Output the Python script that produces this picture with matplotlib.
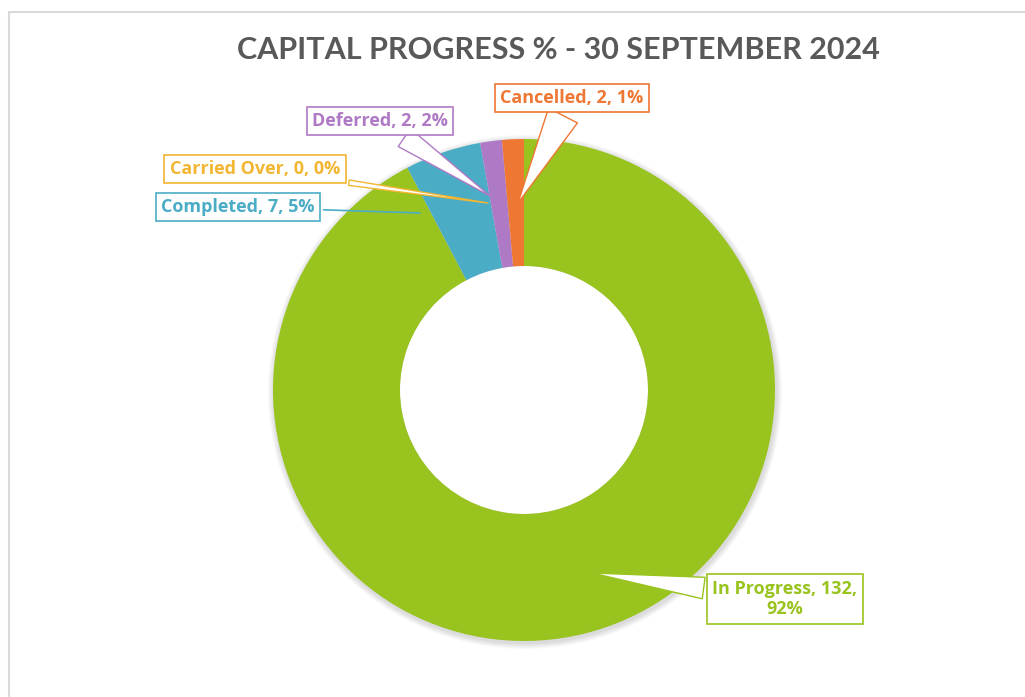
import numpy as np
import matplotlib
matplotlib.use('Agg')
import matplotlib.pyplot as plt
from matplotlib.patches import Circle

# data
categories = ['In Progress', 'Completed', 'Carried Over', 'Deferred', 'Cancelled']
counts = [132, 7, 0, 2, 2]
pct_labels = ['92%', '5%', '0%', '2%', '1%']
colors = ['#99C31E', '#4BACC6', '#F2B632', '#AF7AC5', '#EE7733']
title = 'CAPITAL PROGRESS % - 30 SEPTEMBER 2024'

plt.rcParams['font.family'] = ['Lato', 'DejaVu Sans']

W, H = 1025, 697
fig = plt.figure(figsize=(W / 100, H / 100), dpi=100)
ax = fig.add_axes([0, 0, 1, 1])

cx, cy = 524, H - 390
R, r_in = 251, 124

# soft shadow around the ring
for k in range(1, 7):
    ax.add_patch(Circle((cx + 1, cy - 2), R + k, color='#000000', alpha=0.025, lw=0, zorder=0))
ax.add_patch(Circle((cx, cy), r_in, color='white', lw=0, zorder=0.5))

wedges, _ = ax.pie(counts, colors=colors, startangle=90, counterclock=False,
                   center=(cx, cy), radius=R, frame=True,
                   wedgeprops=dict(width=R - r_in, edgecolor='none', zorder=1))
ax.set_xlim(0, W)
ax.set_ylim(0, H)
ax.set_aspect('equal')
ax.axis('off')

# chart area border (top and left only visible)
ax.plot([9, 9, W], [0, H - 12, H - 12], color='#D9D9D9', lw=1.5)

ax.text(558, H - 50, title, ha='center', va='center', fontsize=22,
        fontweight='bold', color='#595959')

# label text, text position, tip of pointer, wedge width
labels = {
    'Cancelled': ('Cancelled, 2, 1%', (572, H - 98), (518, H - 203), 1.8),
    'Deferred': ('Deferred, 2, 2%', (380, H - 121), (490, H - 196), 1.2),
    'Carried Over': ('Carried Over, 0, 0%', (255, H - 169), (488, H - 203), 0.3),
    'Completed': ('Completed, 7, 5%', (238, H - 207), (420, H - 213), 0.0),
    'In Progress': ('In Progress, 132,\n92%', (785, H - 599), (592, H - 573), 1.2),
}

for cat, col in zip(categories, colors):
    txt, pos, tip, tw = labels[cat]
    if tw > 0:
        arrow = dict(arrowstyle='wedge,tail_width=%s,shrink_factor=0.5' % tw,
                     fc='white', ec=col, lw=1.0, shrinkB=0)
    else:
        arrow = dict(arrowstyle='-', color=col, lw=1.2, shrinkB=0)
    ax.annotate(txt, xy=tip, xytext=pos, ha='center', va='center',
                fontsize=13, fontweight='bold', color=col,
                family=['Open Sans', 'DejaVu Sans'],
                linespacing=1.2, zorder=3,
                bbox=dict(boxstyle='square,pad=0.3', fc='white', ec=col, lw=1.2),
                arrowprops=arrow)

fig.savefig('out.png', dpi=100)
